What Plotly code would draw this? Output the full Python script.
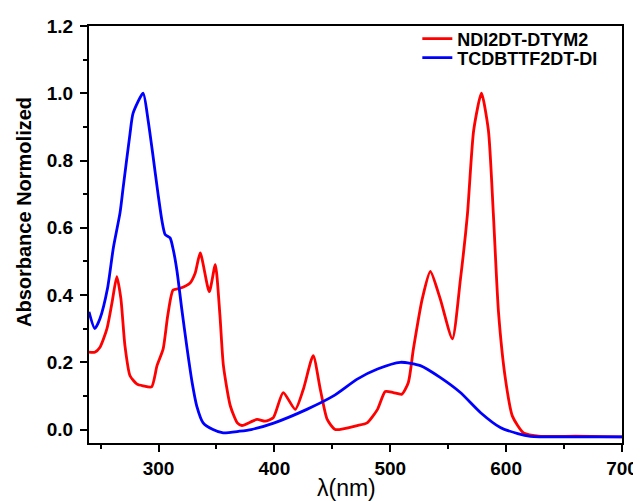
import plotly.graph_objects as go

# NDI2DT-DTYM2 (red)
red_x = [240, 245, 249.5, 255.5, 260, 264, 267.5, 271, 275.4, 281.5, 286.7, 294, 298.7, 304, 308, 312.6,
         318.6, 327, 331.6, 336, 343.8, 349, 353, 356, 362, 368, 372, 385, 392, 399, 407.6, 418, 425,
         433.5, 439.6, 445.6, 452.5, 471.5, 480, 489, 495.7, 502.6, 510, 515.6, 520, 527.7, 534.6, 543,
         553.6, 560.5, 566.6, 572, 578.7, 584.7, 589, 593.4, 599.4, 605.4, 615, 630, 660, 700]
red_y = [0.23, 0.23, 0.245, 0.30, 0.38, 0.455, 0.39, 0.25, 0.16, 0.135, 0.13, 0.127, 0.19, 0.24, 0.34, 0.415,
         0.42, 0.435, 0.465, 0.525, 0.41, 0.49, 0.34, 0.19, 0.07, 0.02, 0.012, 0.03, 0.025, 0.035, 0.11, 0.06, 0.12,
         0.22, 0.12, 0.03, 0.0, 0.012, 0.02, 0.06, 0.113, 0.11, 0.105, 0.14, 0.24, 0.39, 0.47, 0.39,
         0.27, 0.445, 0.64, 0.89, 1.0, 0.89, 0.64, 0.35, 0.15, 0.04, -0.01, -0.02, -0.02, -0.022]

# TCDBTTF2DT-DI (blue)
blue_x = [240, 245, 249.5, 256, 261, 266.8, 269.5, 275.4, 278, 286.7, 291, 295, 299.6, 303, 305.7, 310,
          313, 316, 320, 324.7, 329, 333, 338.5, 347, 355.8, 370, 380, 400, 428, 451, 471.5, 489,
          508.7, 526, 543, 560.5, 578, 595, 610, 621, 650, 700]
blue_y = [0.35, 0.30, 0.33, 0.42, 0.54, 0.645, 0.72, 0.88, 0.94, 1.0, 0.92, 0.82, 0.70, 0.62, 0.58, 0.57,
          0.53, 0.47, 0.36, 0.24, 0.14, 0.07, 0.02, 0.0, -0.01, -0.005, 0.0, 0.02, 0.06, 0.10, 0.15, 0.18,
          0.20, 0.19, 0.155, 0.11, 0.05, 0.006, -0.012, -0.02, -0.022, -0.022]

x_ticks = [300, 400, 500, 600, 700]
x_minor = [250, 350, 450, 550, 650]
y_ticks = [0.0, 0.2, 0.4, 0.6, 0.8, 1.0, 1.2]
y_minor = [0.1, 0.3, 0.5, 0.7, 0.9, 1.1]

font_family = "Liberation Sans, Arial, sans-serif"

# page body has an 8px margin, so the figure is 8px smaller than the window
fig = go.Figure()
fig.add_trace(go.Scatter(x=red_x, y=red_y, mode="lines", name="NDI2DT-DTYM2", legend="legend",
                         line=dict(color="#ff0000", width=2.8, shape="spline", smoothing=0.6)))
fig.add_trace(go.Scatter(x=blue_x, y=blue_y, mode="lines", name="TCDBTTF2DT-DI", legend="legend2",
                         line=dict(color="#0000ff", width=2.8, shape="spline", smoothing=0.6)))

leg_common = dict(x=0.616, xanchor="left", yanchor="middle", bgcolor="rgba(0,0,0,0)",
                  font=dict(size=18, family=font_family, weight="bold"))
fig.update_layout(
    width=633, height=493,
    margin=dict(l=81, r=19, t=18, b=58, autoexpand=False),
    paper_bgcolor="white", plot_bgcolor="white",
    font=dict(family=font_family, color="black"),
    showlegend=True,
    legend=dict(y=(417 - 13) / 417, **leg_common),
    legend2=dict(y=(417 - 32) / 417, **leg_common),
)
fig.update_xaxes(
    range=[240, 700], tickmode="array", tickvals=x_ticks, automargin=False,
    ticks="outside", ticklen=7, tickwidth=2, tickcolor="black",
    showline=True, linewidth=2, linecolor="black", mirror=True,
    showgrid=False, zeroline=False,
    tickfont=dict(size=19, family=font_family, weight="bold"),
    minor=dict(tickvals=x_minor, ticks="outside", ticklen=4, tickwidth=2, tickcolor="black"),
)
fig.update_yaxes(
    range=[-0.04, 1.2], tickmode="array", tickvals=y_ticks, tickformat=".1f", automargin=False,
    ticks="outside", ticklen=7, tickwidth=2, tickcolor="black", ticklabelstandoff=3,
    showline=True, linewidth=2, linecolor="black", mirror=True,
    showgrid=False, zeroline=False,
    tickfont=dict(size=19, family=font_family, weight="bold"),
    minor=dict(tickvals=y_minor, ticks="outside", ticklen=4, tickwidth=2, tickcolor="black"),
)
fig.add_annotation(text="Absorbance Normolized", xref="paper", yref="paper",
                   x=(24 - 89) / 533, y=(443 - 212) / 417, textangle=-90, showarrow=False,
                   xanchor="center", yanchor="middle",
                   font=dict(size=20, family=font_family, weight="bold"))
fig.add_annotation(text="λ(nm)", xref="paper", yref="paper",
                   x=(346 - 89) / 533, y=(443 - 488) / 417, showarrow=False,
                   xanchor="center", yanchor="middle",
                   font=dict(size=23, family=font_family))

fig.write_html("out.html")
